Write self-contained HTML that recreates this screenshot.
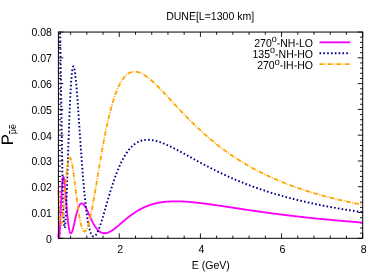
<!DOCTYPE html>
<html><head><meta charset="utf-8"><title>DUNE</title>
<style>html,body{margin:0;padding:0;background:#fff;}body{width:382px;height:273px;overflow:hidden;position:relative;font-family:"Liberation Sans",sans-serif;}</style>
</head><body>
<svg width="382" height="273" viewBox="0 0 382 273" style="position:absolute;left:0;top:0;display:block">
<rect width="382" height="273" fill="#fff"/>
<defs><filter id="nf" x="0" y="0" width="382" height="273" filterUnits="userSpaceOnUse"><feGaussianBlur stdDeviation="0.3"/></filter></defs>
<defs><clipPath id="c"><rect x="56.9" y="32.05" width="307.3" height="206.85"/></clipPath></defs>
<path d="M58.4,238.30h4.9M362.7,238.30h-4.9M58.4,233.14h2.7M362.7,233.14h-2.7M58.4,227.99h2.7M362.7,227.99h-2.7M58.4,222.83h2.7M362.7,222.83h-2.7M58.4,217.68h2.7M362.7,217.68h-2.7M58.4,212.52h4.9M362.7,212.52h-4.9M58.4,207.36h2.7M362.7,207.36h-2.7M58.4,202.21h2.7M362.7,202.21h-2.7M58.4,197.05h2.7M362.7,197.05h-2.7M58.4,191.89h2.7M362.7,191.89h-2.7M58.4,186.74h4.9M362.7,186.74h-4.9M58.4,181.58h2.7M362.7,181.58h-2.7M58.4,176.43h2.7M362.7,176.43h-2.7M58.4,171.27h2.7M362.7,171.27h-2.7M58.4,166.11h2.7M362.7,166.11h-2.7M58.4,160.96h4.9M362.7,160.96h-4.9M58.4,155.80h2.7M362.7,155.80h-2.7M58.4,150.64h2.7M362.7,150.64h-2.7M58.4,145.49h2.7M362.7,145.49h-2.7M58.4,140.33h2.7M362.7,140.33h-2.7M58.4,135.18h4.9M362.7,135.18h-4.9M58.4,130.02h2.7M362.7,130.02h-2.7M58.4,124.86h2.7M362.7,124.86h-2.7M58.4,119.71h2.7M362.7,119.71h-2.7M58.4,114.55h2.7M362.7,114.55h-2.7M58.4,109.39h4.9M362.7,109.39h-4.9M58.4,104.24h2.7M362.7,104.24h-2.7M58.4,99.08h2.7M362.7,99.08h-2.7M58.4,93.93h2.7M362.7,93.93h-2.7M58.4,88.77h2.7M362.7,88.77h-2.7M58.4,83.61h4.9M362.7,83.61h-4.9M58.4,78.46h2.7M362.7,78.46h-2.7M58.4,73.30h2.7M362.7,73.30h-2.7M58.4,68.14h2.7M362.7,68.14h-2.7M58.4,62.99h2.7M362.7,62.99h-2.7M58.4,57.83h4.9M362.7,57.83h-4.9M58.4,52.68h2.7M362.7,52.68h-2.7M58.4,47.52h2.7M362.7,47.52h-2.7M58.4,42.36h2.7M362.7,42.36h-2.7M58.4,37.21h2.7M362.7,37.21h-2.7M58.4,32.05h4.9M362.7,32.05h-4.9M70.57,238.3v-2.7M70.57,32.05v2.7M86.80,238.3v-2.7M86.80,32.05v2.7M103.03,238.3v-2.7M103.03,32.05v2.7M119.26,238.3v-4.9M119.26,32.05v4.9M135.49,238.3v-2.7M135.49,32.05v2.7M151.72,238.3v-2.7M151.72,32.05v2.7M167.95,238.3v-2.7M167.95,32.05v2.7M184.18,238.3v-2.7M184.18,32.05v2.7M200.41,238.3v-4.9M200.41,32.05v4.9M216.64,238.3v-2.7M216.64,32.05v2.7M232.87,238.3v-2.7M232.87,32.05v2.7M249.09,238.3v-2.7M249.09,32.05v2.7M265.32,238.3v-2.7M265.32,32.05v2.7M281.55,238.3v-4.9M281.55,32.05v4.9M297.78,238.3v-2.7M297.78,32.05v2.7M314.01,238.3v-2.7M314.01,32.05v2.7M330.24,238.3v-2.7M330.24,32.05v2.7M346.47,238.3v-2.7M346.47,32.05v2.7M362.70,238.3v-4.9M362.70,32.05v4.9" stroke="#000" stroke-width="0.9" fill="none"/>
<g clip-path="url(#c)" fill="none" stroke-linejoin="round">
<path d="M58.40,233.93 L58.55,236.04 L58.71,237.43 L58.86,238.12 L59.01,238.18 L59.16,237.63 L59.32,236.53 L59.47,234.95 L59.62,232.94 L59.77,230.56 L59.93,227.86 L60.08,224.92 L60.23,221.78 L60.38,218.51 L60.54,215.15 L60.69,211.75 L60.84,208.36 L60.99,205.02 L61.15,201.76 L61.30,198.63 L61.45,195.64 L61.60,192.83 L61.76,190.21 L61.91,187.80 L62.06,185.62 L62.21,183.67 L62.37,181.97 L62.52,180.52 L62.67,179.31 L62.82,178.35 L62.98,177.64 L63.13,177.16 L63.28,176.92 L63.43,176.91 L63.59,177.10 L63.74,177.50 L63.89,178.09 L64.04,178.87 L64.20,179.80 L64.35,180.89 L64.50,182.12 L64.65,183.48 L64.81,184.95 L64.96,186.51 L65.11,188.16 L65.26,189.88 L65.42,191.66 L65.57,193.49 L65.72,195.36 L65.87,197.24 L66.03,199.15 L66.18,201.05 L66.33,202.95 L66.48,204.83 L66.64,206.69 L66.79,208.52 L66.94,210.31 L67.09,212.06 L67.25,213.75 L67.40,215.40 L67.55,216.98 L67.70,218.50 L67.86,219.95 L68.01,221.33 L68.16,222.64 L68.31,223.88 L68.47,225.04 L68.62,226.12 L68.77,227.12 L68.92,228.05 L69.08,228.90 L69.23,229.67 L69.38,230.36 L69.53,230.98 L69.69,231.52 L69.84,231.98 L69.99,232.38 L70.14,232.70 L70.30,232.96 L70.45,233.15 L70.60,233.27 L70.76,233.34 L70.91,233.34 L71.06,233.29 L71.21,233.18 L71.37,233.02 L71.52,232.81 L71.67,232.55 L71.82,232.25 L71.98,231.90 L72.13,231.52 L72.28,231.10 L72.43,230.65 L72.59,230.16 L72.74,229.65 L72.89,229.11 L73.04,228.54 L73.20,227.96 L73.35,227.35 L73.50,226.73 L73.65,226.09 L73.81,225.44 L73.96,224.78 L74.11,224.11 L74.26,223.44 L74.42,222.76 L74.57,222.07 L74.72,221.39 L74.87,220.70 L75.03,220.02 L75.18,219.34 L75.33,218.66 L75.48,217.99 L75.64,217.32 L75.79,216.67 L75.94,216.02 L76.09,215.38 L76.25,214.76 L76.40,214.14 L76.55,213.54 L76.70,212.96 L76.86,212.38 L77.01,211.83 L77.16,211.29 L77.31,210.76 L77.47,210.25 L77.62,209.76 L77.77,209.28 L77.92,208.83 L78.08,208.39 L78.23,207.97 L78.38,207.57 L78.53,207.18 L78.69,206.82 L78.84,206.47 L78.99,206.15 L79.14,205.84 L79.30,205.55 L79.45,205.28 L79.60,205.03 L79.75,204.80 L79.91,204.58 L80.06,204.39 L80.21,204.21 L80.36,204.05 L80.52,203.91 L80.67,203.79 L80.82,203.68 L80.97,203.59 L81.13,203.52 L81.28,203.47 L81.43,203.43 L81.58,203.40 L81.74,203.40 L81.89,203.41 L82.04,203.43 L82.19,203.47 L82.35,203.52 L82.50,203.58 L82.65,203.66 L82.81,203.75 L82.96,203.86 L83.11,203.98 L83.26,204.11 L83.42,204.25 L83.57,204.40 L83.72,204.57 L83.87,204.74 L84.03,204.93 L84.18,205.12 L84.33,205.32 L84.48,205.54 L84.64,205.76 L84.79,205.99 L84.94,206.23 L85.09,206.48 L85.25,206.73 L85.40,206.99 L85.55,207.26 L85.70,207.53 L85.86,207.81 L86.01,208.10 L86.16,208.39 L86.31,208.68 L86.47,208.98 L86.62,209.29 L86.77,209.59 L86.92,209.91 L87.08,210.22 L87.23,210.54 L87.38,210.86 L87.53,211.19 L87.69,211.52 L87.84,211.85 L87.99,212.18 L88.14,212.51 L88.30,212.84 L88.45,213.18 L88.60,213.52 L88.75,213.85 L88.91,214.19 L89.06,214.53 L89.21,214.87 L89.36,215.20 L89.52,215.54 L89.67,215.88 L89.82,216.21 L89.97,216.55 L90.13,216.88 L90.28,217.22 L90.43,217.55 L90.58,217.88 L90.74,218.21 L90.89,218.53 L91.04,218.86 L91.19,219.18 L91.35,219.50 L91.50,219.82 L91.65,220.13 L91.80,220.45 L91.96,220.76 L92.11,221.07 L92.26,221.37 L92.41,221.67 L92.57,221.97 L92.72,222.27 L92.87,222.56 L93.02,222.85 L93.18,223.13 L93.33,223.41 L93.48,223.69 L93.63,223.97 L93.79,224.24 L93.94,224.51 L94.09,224.77 L94.24,225.03 L94.40,225.29 L94.55,225.54 L94.70,225.79 L94.85,226.03 L95.01,226.27 L95.16,226.51 L95.31,226.74 L95.47,226.97 L95.62,227.19 L95.77,227.41 L95.92,227.63 L96.08,227.84 L96.23,228.04 L96.38,228.25 L96.53,228.45 L96.69,228.64 L96.84,228.83 L96.99,229.02 L97.14,229.20 L97.30,229.37 L97.45,229.55 L97.60,229.72 L97.75,229.88 L97.91,230.04 L98.06,230.20 L98.21,230.35 L98.36,230.50 L98.52,230.64 L98.67,230.78 L98.82,230.92 L98.97,231.05 L99.13,231.18 L99.28,231.30 L99.43,231.42 L99.58,231.54 L99.74,231.65 L99.89,231.75 L100.04,231.86 L100.19,231.96 L100.35,232.05 L100.50,232.14 L100.65,232.23 L100.80,232.32 L100.96,232.40 L101.11,232.47 L101.26,232.54 L101.41,232.61 L101.57,232.68 L101.72,232.74 L101.87,232.80 L102.02,232.85 L102.18,232.90 L102.33,232.95 L102.48,233.00 L102.63,233.04 L102.79,233.07 L102.94,233.11 L103.09,233.14 L103.24,233.17 L103.40,233.19 L103.55,233.21 L103.70,233.23 L103.85,233.24 L104.01,233.26 L104.16,233.26 L104.31,233.27 L104.46,233.27 L104.62,233.27 L104.77,233.27 L104.92,233.26 L105.07,233.25 L105.23,233.24 L105.38,233.23 L105.53,233.21 L105.68,233.19 L105.84,233.17 L105.99,233.14 L106.14,233.12 L106.29,233.09 L106.45,233.05 L106.60,233.02 L106.75,232.98 L106.90,232.94 L107.06,232.90 L107.21,232.86 L107.36,232.81 L107.52,232.76 L107.67,232.71 L107.82,232.66 L107.97,232.60 L108.13,232.54 L108.28,232.48 L108.43,232.42 L108.58,232.36 L108.74,232.30 L108.89,232.23 L109.04,232.16 L109.19,232.09 L109.35,232.02 L109.50,231.94 L109.65,231.87 L109.80,231.79 L109.96,231.71 L110.11,231.63 L110.26,231.54 L110.41,231.46 L110.57,231.38 L110.72,231.29 L110.87,231.20 L111.02,231.11 L111.18,231.02 L111.33,230.92 L111.48,230.83 L111.63,230.74 L111.79,230.64 L111.94,230.54 L112.09,230.44 L112.24,230.34 L112.40,230.24 L112.55,230.14 L112.70,230.03 L112.85,229.93 L113.01,229.82 L113.16,229.71 L113.31,229.61 L113.46,229.50 L113.62,229.39 L113.77,229.28 L113.92,229.16 L114.07,229.05 L114.23,228.94 L114.38,228.82 L114.53,228.71 L114.68,228.59 L114.84,228.48 L114.99,228.36 L115.14,228.24 L115.29,228.12 L115.45,228.00 L115.60,227.88 L115.75,227.76 L115.90,227.64 L116.06,227.52 L116.21,227.39 L116.36,227.27 L116.51,227.15 L116.67,227.02 L116.82,226.90 L116.97,226.77 L117.12,226.65 L117.28,226.52 L117.43,226.40 L117.58,226.27 L117.73,226.14 L117.89,226.02 L118.04,225.89 L118.19,225.76 L118.34,225.63 L118.50,225.50 L118.65,225.37 L118.80,225.25 L118.95,225.12 L119.11,224.99 L119.26,224.86 L120.07,224.16 L120.89,223.46 L121.70,222.77 L122.52,222.07 L123.33,221.37 L124.15,220.68 L124.96,220.00 L125.77,219.32 L126.59,218.65 L127.40,217.99 L128.22,217.34 L129.03,216.70 L129.84,216.08 L130.66,215.46 L131.47,214.86 L132.29,214.27 L133.10,213.70 L133.92,213.14 L134.73,212.59 L135.54,212.06 L136.36,211.54 L137.17,211.04 L137.99,210.55 L138.80,210.08 L139.61,209.62 L140.43,209.17 L141.24,208.74 L142.06,208.33 L142.87,207.93 L143.69,207.54 L144.50,207.17 L145.31,206.82 L146.13,206.47 L146.94,206.14 L147.76,205.83 L148.57,205.52 L149.38,205.23 L150.20,204.96 L151.01,204.69 L151.83,204.44 L152.64,204.20 L153.46,203.97 L154.27,203.75 L155.08,203.54 L155.90,203.35 L156.71,203.16 L157.53,202.99 L158.34,202.83 L159.15,202.67 L159.97,202.53 L160.78,202.39 L161.60,202.27 L162.41,202.15 L163.23,202.04 L164.04,201.94 L164.85,201.85 L165.67,201.77 L166.48,201.69 L167.30,201.62 L168.11,201.56 L168.93,201.51 L169.74,201.46 L170.55,201.42 L171.37,201.39 L172.18,201.36 L173.00,201.34 L173.81,201.32 L174.62,201.31 L175.44,201.31 L176.25,201.31 L177.07,201.32 L177.88,201.33 L178.70,201.34 L179.51,201.36 L180.32,201.39 L181.14,201.42 L181.95,201.45 L182.77,201.49 L183.58,201.53 L184.39,201.58 L185.21,201.63 L186.02,201.68 L186.84,201.74 L187.65,201.80 L188.47,201.86 L189.28,201.92 L190.09,201.99 L190.91,202.06 L191.72,202.14 L192.54,202.21 L193.35,202.29 L194.16,202.38 L194.98,202.46 L195.79,202.55 L196.61,202.63 L197.42,202.72 L198.24,202.82 L199.05,202.91 L199.86,203.01 L200.68,203.10 L201.49,203.20 L202.31,203.30 L203.12,203.41 L203.93,203.51 L204.75,203.62 L205.56,203.72 L206.38,203.83 L207.19,203.94 L208.01,204.05 L208.82,204.16 L209.63,204.27 L210.45,204.38 L211.26,204.50 L212.08,204.61 L212.89,204.73 L213.70,204.84 L214.52,204.96 L215.33,205.08 L216.15,205.20 L216.96,205.31 L217.78,205.43 L218.59,205.55 L219.40,205.67 L220.22,205.79 L221.03,205.92 L221.85,206.04 L222.66,206.16 L223.48,206.28 L224.29,206.40 L225.10,206.52 L225.92,206.65 L226.73,206.77 L227.55,206.89 L228.36,207.02 L229.17,207.14 L229.99,207.26 L230.80,207.39 L231.62,207.51 L232.43,207.63 L233.25,207.75 L234.06,207.88 L234.87,208.00 L235.69,208.12 L236.50,208.25 L237.32,208.37 L238.13,208.49 L238.94,208.62 L239.76,208.74 L240.57,208.86 L241.39,208.98 L242.20,209.10 L243.02,209.22 L243.83,209.35 L244.64,209.47 L245.46,209.59 L246.27,209.71 L247.09,209.83 L247.90,209.95 L248.71,210.07 L249.53,210.19 L250.34,210.31 L251.16,210.43 L251.97,210.54 L252.79,210.66 L253.60,210.78 L254.41,210.90 L255.23,211.01 L256.04,211.13 L256.86,211.25 L257.67,211.36 L258.48,211.48 L259.30,211.59 L260.11,211.71 L260.93,211.82 L261.74,211.94 L262.56,212.05 L263.37,212.16 L264.18,212.27 L265.00,212.39 L265.81,212.50 L266.63,212.61 L267.44,212.72 L268.26,212.83 L269.07,212.94 L269.88,213.05 L270.70,213.16 L271.51,213.27 L272.33,213.37 L273.14,213.48 L273.95,213.59 L274.77,213.70 L275.58,213.80 L276.40,213.91 L277.21,214.01 L278.03,214.12 L278.84,214.22 L279.65,214.33 L280.47,214.43 L281.28,214.53 L282.10,214.63 L282.91,214.74 L283.72,214.84 L284.54,214.94 L285.35,215.04 L286.17,215.14 L286.98,215.24 L287.80,215.34 L288.61,215.44 L289.42,215.53 L290.24,215.63 L291.05,215.73 L291.87,215.83 L292.68,215.92 L293.49,216.02 L294.31,216.11 L295.12,216.21 L295.94,216.30 L296.75,216.40 L297.57,216.49 L298.38,216.58 L299.19,216.68 L300.01,216.77 L300.82,216.86 L301.64,216.95 L302.45,217.04 L303.26,217.13 L304.08,217.22 L304.89,217.31 L305.71,217.40 L306.52,217.49 L307.34,217.57 L308.15,217.66 L308.96,217.75 L309.78,217.83 L310.59,217.92 L311.41,218.01 L312.22,218.09 L313.03,218.18 L313.85,218.26 L314.66,218.34 L315.48,218.43 L316.29,218.51 L317.11,218.59 L317.92,218.68 L318.73,218.76 L319.55,218.84 L320.36,218.92 L321.18,219.00 L321.99,219.08 L322.81,219.16 L323.62,219.24 L324.43,219.32 L325.25,219.39 L326.06,219.47 L326.88,219.55 L327.69,219.63 L328.50,219.70 L329.32,219.78 L330.13,219.86 L330.95,219.93 L331.76,220.01 L332.58,220.08 L333.39,220.16 L334.20,220.23 L335.02,220.30 L335.83,220.38 L336.65,220.45 L337.46,220.52 L338.27,220.59 L339.09,220.66 L339.90,220.73 L340.72,220.81 L341.53,220.88 L342.35,220.95 L343.16,221.02 L343.97,221.09 L344.79,221.15 L345.60,221.22 L346.42,221.29 L347.23,221.36 L348.04,221.43 L348.86,221.49 L349.67,221.56 L350.49,221.63 L351.30,221.69 L352.12,221.76 L352.93,221.82 L353.74,221.89 L354.56,221.95 L355.37,222.02 L356.19,222.08 L357.00,222.14 L357.81,222.21 L358.63,222.27 L359.44,222.33 L360.26,222.40 L361.07,222.46 L361.89,222.52 L362.70,222.58" stroke="#ff00ff" stroke-width="1.85"/>
<path d="M58.40,13.40 L58.55,8.36 L58.71,4.82 L58.86,2.75 L59.01,2.12 L59.16,2.86 L59.32,4.92 L59.47,8.21 L59.62,12.63 L59.77,18.09 L59.93,24.48 L60.08,31.69 L60.23,39.61 L60.38,48.14 L60.54,57.15 L60.69,66.56 L60.84,76.25 L60.99,86.12 L61.15,96.09 L61.30,106.06 L61.45,115.96 L61.60,125.71 L61.76,135.23 L61.91,144.48 L62.06,153.39 L62.21,161.91 L62.37,170.01 L62.52,177.64 L62.67,184.78 L62.82,191.40 L62.98,197.48 L63.13,203.01 L63.28,207.99 L63.43,212.39 L63.59,216.23 L63.74,219.52 L63.89,222.24 L64.04,224.42 L64.20,226.07 L64.35,227.20 L64.50,227.83 L64.65,227.98 L64.81,227.67 L64.96,226.92 L65.11,225.75 L65.26,224.19 L65.42,222.27 L65.57,220.00 L65.72,217.41 L65.87,214.52 L66.03,211.37 L66.18,207.98 L66.33,204.37 L66.48,200.56 L66.64,196.58 L66.79,192.45 L66.94,188.20 L67.09,183.84 L67.25,179.40 L67.40,174.89 L67.55,170.34 L67.70,165.76 L67.86,161.17 L68.01,156.58 L68.16,152.02 L68.31,147.49 L68.47,143.02 L68.62,138.60 L68.77,134.26 L68.92,130.00 L69.08,125.84 L69.23,121.78 L69.38,117.84 L69.53,114.01 L69.69,110.31 L69.84,106.74 L69.99,103.31 L70.14,100.02 L70.30,96.88 L70.45,93.89 L70.60,91.05 L70.76,88.36 L70.91,85.83 L71.06,83.46 L71.21,81.25 L71.37,79.19 L71.52,77.29 L71.67,75.55 L71.82,73.97 L71.98,72.54 L72.13,71.26 L72.28,70.14 L72.43,69.17 L72.59,68.34 L72.74,67.66 L72.89,67.12 L73.04,66.72 L73.20,66.46 L73.35,66.32 L73.50,66.32 L73.65,66.45 L73.81,66.69 L73.96,67.05 L74.11,67.53 L74.26,68.12 L74.42,68.82 L74.57,69.62 L74.72,70.52 L74.87,71.52 L75.03,72.60 L75.18,73.78 L75.33,75.04 L75.48,76.37 L75.64,77.79 L75.79,79.28 L75.94,80.83 L76.09,82.45 L76.25,84.14 L76.40,85.88 L76.55,87.67 L76.70,89.52 L76.86,91.41 L77.01,93.35 L77.16,95.32 L77.31,97.34 L77.47,99.39 L77.62,101.47 L77.77,103.58 L77.92,105.72 L78.08,107.88 L78.23,110.06 L78.38,112.26 L78.53,114.47 L78.69,116.70 L78.84,118.93 L78.99,121.18 L79.14,123.43 L79.30,125.68 L79.45,127.93 L79.60,130.19 L79.75,132.44 L79.91,134.69 L80.06,136.93 L80.21,139.17 L80.36,141.39 L80.52,143.61 L80.67,145.81 L80.82,148.00 L80.97,150.18 L81.13,152.33 L81.28,154.47 L81.43,156.60 L81.58,158.70 L81.74,160.78 L81.89,162.84 L82.04,164.88 L82.19,166.89 L82.35,168.88 L82.50,170.85 L82.65,172.79 L82.81,174.70 L82.96,176.59 L83.11,178.44 L83.26,180.27 L83.42,182.08 L83.57,183.85 L83.72,185.59 L83.87,187.30 L84.03,188.99 L84.18,190.64 L84.33,192.26 L84.48,193.85 L84.64,195.41 L84.79,196.94 L84.94,198.44 L85.09,199.91 L85.25,201.34 L85.40,202.74 L85.55,204.11 L85.70,205.45 L85.86,206.76 L86.01,208.04 L86.16,209.28 L86.31,210.50 L86.47,211.68 L86.62,212.83 L86.77,213.95 L86.92,215.04 L87.08,216.10 L87.23,217.13 L87.38,218.12 L87.53,219.09 L87.69,220.03 L87.84,220.94 L87.99,221.81 L88.14,222.66 L88.30,223.48 L88.45,224.27 L88.60,225.04 L88.75,225.77 L88.91,226.48 L89.06,227.16 L89.21,227.81 L89.36,228.44 L89.52,229.04 L89.67,229.61 L89.82,230.16 L89.97,230.68 L90.13,231.18 L90.28,231.65 L90.43,232.10 L90.58,232.52 L90.74,232.92 L90.89,233.30 L91.04,233.65 L91.19,233.98 L91.35,234.29 L91.50,234.57 L91.65,234.84 L91.80,235.08 L91.96,235.30 L92.11,235.50 L92.26,235.68 L92.41,235.85 L92.57,235.99 L92.72,236.11 L92.87,236.21 L93.02,236.30 L93.18,236.37 L93.33,236.42 L93.48,236.45 L93.63,236.46 L93.79,236.46 L93.94,236.44 L94.09,236.41 L94.24,236.36 L94.40,236.29 L94.55,236.21 L94.70,236.12 L94.85,236.01 L95.01,235.88 L95.16,235.75 L95.31,235.60 L95.47,235.43 L95.62,235.25 L95.77,235.06 L95.92,234.86 L96.08,234.65 L96.23,234.42 L96.38,234.19 L96.53,233.94 L96.69,233.68 L96.84,233.41 L96.99,233.13 L97.14,232.84 L97.30,232.54 L97.45,232.23 L97.60,231.91 L97.75,231.58 L97.91,231.25 L98.06,230.90 L98.21,230.55 L98.36,230.19 L98.52,229.82 L98.67,229.44 L98.82,229.06 L98.97,228.67 L99.13,228.27 L99.28,227.87 L99.43,227.46 L99.58,227.04 L99.74,226.62 L99.89,226.19 L100.04,225.76 L100.19,225.32 L100.35,224.87 L100.50,224.42 L100.65,223.97 L100.80,223.51 L100.96,223.05 L101.11,222.58 L101.26,222.11 L101.41,221.63 L101.57,221.15 L101.72,220.67 L101.87,220.18 L102.02,219.69 L102.18,219.20 L102.33,218.70 L102.48,218.21 L102.63,217.70 L102.79,217.20 L102.94,216.69 L103.09,216.19 L103.24,215.68 L103.40,215.16 L103.55,214.65 L103.70,214.13 L103.85,213.62 L104.01,213.10 L104.16,212.58 L104.31,212.06 L104.46,211.54 L104.62,211.01 L104.77,210.49 L104.92,209.96 L105.07,209.44 L105.23,208.91 L105.38,208.39 L105.53,207.86 L105.68,207.33 L105.84,206.81 L105.99,206.28 L106.14,205.75 L106.29,205.22 L106.45,204.70 L106.60,204.17 L106.75,203.64 L106.90,203.12 L107.06,202.59 L107.21,202.07 L107.36,201.55 L107.52,201.02 L107.67,200.50 L107.82,199.98 L107.97,199.46 L108.13,198.94 L108.28,198.42 L108.43,197.91 L108.58,197.39 L108.74,196.88 L108.89,196.36 L109.04,195.85 L109.19,195.34 L109.35,194.83 L109.50,194.33 L109.65,193.82 L109.80,193.32 L109.96,192.81 L110.11,192.31 L110.26,191.81 L110.41,191.32 L110.57,190.82 L110.72,190.33 L110.87,189.84 L111.02,189.35 L111.18,188.86 L111.33,188.38 L111.48,187.90 L111.63,187.41 L111.79,186.94 L111.94,186.46 L112.09,185.99 L112.24,185.51 L112.40,185.04 L112.55,184.58 L112.70,184.11 L112.85,183.65 L113.01,183.19 L113.16,182.73 L113.31,182.28 L113.46,181.82 L113.62,181.37 L113.77,180.93 L113.92,180.48 L114.07,180.04 L114.23,179.60 L114.38,179.16 L114.53,178.73 L114.68,178.29 L114.84,177.86 L114.99,177.44 L115.14,177.01 L115.29,176.59 L115.45,176.17 L115.60,175.75 L115.75,175.34 L115.90,174.93 L116.06,174.52 L116.21,174.11 L116.36,173.71 L116.51,173.31 L116.67,172.91 L116.82,172.52 L116.97,172.13 L117.12,171.74 L117.28,171.35 L117.43,170.97 L117.58,170.58 L117.73,170.21 L117.89,169.83 L118.04,169.46 L118.19,169.09 L118.34,168.72 L118.50,168.36 L118.65,167.99 L118.80,167.64 L118.95,167.28 L119.11,166.93 L119.26,166.58 L120.07,164.75 L120.89,163.00 L121.70,161.33 L122.52,159.74 L123.33,158.22 L124.15,156.78 L124.96,155.41 L125.77,154.12 L126.59,152.89 L127.40,151.73 L128.22,150.64 L129.03,149.61 L129.84,148.64 L130.66,147.74 L131.47,146.89 L132.29,146.11 L133.10,145.37 L133.92,144.70 L134.73,144.07 L135.54,143.50 L136.36,142.97 L137.17,142.49 L137.99,142.05 L138.80,141.66 L139.61,141.31 L140.43,141.00 L141.24,140.73 L142.06,140.50 L142.87,140.30 L143.69,140.13 L144.50,140.00 L145.31,139.90 L146.13,139.83 L146.94,139.79 L147.76,139.77 L148.57,139.78 L149.38,139.82 L150.20,139.88 L151.01,139.96 L151.83,140.07 L152.64,140.20 L153.46,140.34 L154.27,140.51 L155.08,140.69 L155.90,140.89 L156.71,141.11 L157.53,141.34 L158.34,141.59 L159.15,141.85 L159.97,142.12 L160.78,142.41 L161.60,142.71 L162.41,143.02 L163.23,143.34 L164.04,143.67 L164.85,144.01 L165.67,144.36 L166.48,144.72 L167.30,145.09 L168.11,145.46 L168.93,145.84 L169.74,146.23 L170.55,146.62 L171.37,147.02 L172.18,147.42 L173.00,147.83 L173.81,148.25 L174.62,148.66 L175.44,149.08 L176.25,149.51 L177.07,149.94 L177.88,150.37 L178.70,150.81 L179.51,151.24 L180.32,151.68 L181.14,152.12 L181.95,152.57 L182.77,153.01 L183.58,153.46 L184.39,153.90 L185.21,154.35 L186.02,154.80 L186.84,155.25 L187.65,155.70 L188.47,156.15 L189.28,156.60 L190.09,157.05 L190.91,157.50 L191.72,157.95 L192.54,158.40 L193.35,158.84 L194.16,159.29 L194.98,159.74 L195.79,160.18 L196.61,160.63 L197.42,161.07 L198.24,161.52 L199.05,161.96 L199.86,162.40 L200.68,162.84 L201.49,163.27 L202.31,163.71 L203.12,164.14 L203.93,164.58 L204.75,165.01 L205.56,165.43 L206.38,165.86 L207.19,166.29 L208.01,166.71 L208.82,167.13 L209.63,167.55 L210.45,167.97 L211.26,168.38 L212.08,168.80 L212.89,169.21 L213.70,169.62 L214.52,170.02 L215.33,170.43 L216.15,170.83 L216.96,171.23 L217.78,171.63 L218.59,172.02 L219.40,172.42 L220.22,172.81 L221.03,173.19 L221.85,173.58 L222.66,173.96 L223.48,174.35 L224.29,174.72 L225.10,175.10 L225.92,175.48 L226.73,175.85 L227.55,176.22 L228.36,176.58 L229.17,176.95 L229.99,177.31 L230.80,177.67 L231.62,178.03 L232.43,178.38 L233.25,178.74 L234.06,179.09 L234.87,179.44 L235.69,179.78 L236.50,180.13 L237.32,180.47 L238.13,180.81 L238.94,181.14 L239.76,181.48 L240.57,181.81 L241.39,182.14 L242.20,182.47 L243.02,182.79 L243.83,183.11 L244.64,183.43 L245.46,183.75 L246.27,184.07 L247.09,184.38 L247.90,184.69 L248.71,185.00 L249.53,185.31 L250.34,185.61 L251.16,185.92 L251.97,186.22 L252.79,186.52 L253.60,186.81 L254.41,187.11 L255.23,187.40 L256.04,187.69 L256.86,187.98 L257.67,188.26 L258.48,188.54 L259.30,188.83 L260.11,189.11 L260.93,189.38 L261.74,189.66 L262.56,189.93 L263.37,190.20 L264.18,190.47 L265.00,190.74 L265.81,191.01 L266.63,191.27 L267.44,191.53 L268.26,191.79 L269.07,192.05 L269.88,192.31 L270.70,192.56 L271.51,192.81 L272.33,193.06 L273.14,193.31 L273.95,193.56 L274.77,193.80 L275.58,194.05 L276.40,194.29 L277.21,194.53 L278.03,194.77 L278.84,195.00 L279.65,195.24 L280.47,195.47 L281.28,195.70 L282.10,195.93 L282.91,196.16 L283.72,196.39 L284.54,196.61 L285.35,196.83 L286.17,197.05 L286.98,197.27 L287.80,197.49 L288.61,197.71 L289.42,197.92 L290.24,198.14 L291.05,198.35 L291.87,198.56 L292.68,198.77 L293.49,198.98 L294.31,199.18 L295.12,199.39 L295.94,199.59 L296.75,199.79 L297.57,199.99 L298.38,200.19 L299.19,200.39 L300.01,200.58 L300.82,200.78 L301.64,200.97 L302.45,201.16 L303.26,201.35 L304.08,201.54 L304.89,201.73 L305.71,201.92 L306.52,202.10 L307.34,202.28 L308.15,202.47 L308.96,202.65 L309.78,202.83 L310.59,203.01 L311.41,203.18 L312.22,203.36 L313.03,203.53 L313.85,203.71 L314.66,203.88 L315.48,204.05 L316.29,204.22 L317.11,204.39 L317.92,204.56 L318.73,204.73 L319.55,204.89 L320.36,205.06 L321.18,205.22 L321.99,205.38 L322.81,205.54 L323.62,205.70 L324.43,205.86 L325.25,206.02 L326.06,206.17 L326.88,206.33 L327.69,206.48 L328.50,206.64 L329.32,206.79 L330.13,206.94 L330.95,207.09 L331.76,207.24 L332.58,207.39 L333.39,207.54 L334.20,207.68 L335.02,207.83 L335.83,207.97 L336.65,208.11 L337.46,208.26 L338.27,208.40 L339.09,208.54 L339.90,208.68 L340.72,208.82 L341.53,208.95 L342.35,209.09 L343.16,209.23 L343.97,209.36 L344.79,209.50 L345.60,209.63 L346.42,209.76 L347.23,209.89 L348.04,210.02 L348.86,210.15 L349.67,210.28 L350.49,210.41 L351.30,210.54 L352.12,210.66 L352.93,210.79 L353.74,210.91 L354.56,211.04 L355.37,211.16 L356.19,211.28 L357.00,211.41 L357.81,211.53 L358.63,211.65 L359.44,211.77 L360.26,211.88 L361.07,212.00 L361.89,212.12 L362.70,212.23" stroke="#00008b" stroke-width="1.9" stroke-dasharray="1.6 2.23"/>
<path d="M58.40,190.79 L58.55,194.41 L58.71,197.89 L58.86,201.22 L59.01,204.36 L59.16,207.30 L59.32,210.03 L59.47,212.53 L59.62,214.79 L59.77,216.82 L59.93,218.61 L60.08,220.16 L60.23,221.47 L60.38,222.56 L60.54,223.41 L60.69,224.05 L60.84,224.48 L60.99,224.71 L61.15,224.74 L61.30,224.59 L61.45,224.26 L61.60,223.78 L61.76,223.13 L61.91,222.35 L62.06,221.43 L62.21,220.38 L62.37,219.23 L62.52,217.96 L62.67,216.61 L62.82,215.16 L62.98,213.64 L63.13,212.05 L63.28,210.41 L63.43,208.71 L63.59,206.96 L63.74,205.18 L63.89,203.37 L64.04,201.54 L64.20,199.69 L64.35,197.83 L64.50,195.97 L64.65,194.11 L64.81,192.26 L64.96,190.43 L65.11,188.61 L65.26,186.81 L65.42,185.04 L65.57,183.31 L65.72,181.61 L65.87,179.95 L66.03,178.33 L66.18,176.76 L66.33,175.24 L66.48,173.77 L66.64,172.36 L66.79,171.00 L66.94,169.71 L67.09,168.47 L67.25,167.30 L67.40,166.19 L67.55,165.15 L67.70,164.18 L67.86,163.27 L68.01,162.43 L68.16,161.66 L68.31,160.96 L68.47,160.33 L68.62,159.77 L68.77,159.28 L68.92,158.86 L69.08,158.51 L69.23,158.23 L69.38,158.01 L69.53,157.86 L69.69,157.78 L69.84,157.77 L69.99,157.81 L70.14,157.92 L70.30,158.10 L70.45,158.33 L70.60,158.62 L70.76,158.97 L70.91,159.37 L71.06,159.83 L71.21,160.34 L71.37,160.91 L71.52,161.52 L71.67,162.17 L71.82,162.88 L71.98,163.62 L72.13,164.41 L72.28,165.24 L72.43,166.10 L72.59,167.01 L72.74,167.94 L72.89,168.91 L73.04,169.91 L73.20,170.93 L73.35,171.98 L73.50,173.06 L73.65,174.16 L73.81,175.27 L73.96,176.41 L74.11,177.57 L74.26,178.73 L74.42,179.92 L74.57,181.11 L74.72,182.32 L74.87,183.53 L75.03,184.75 L75.18,185.97 L75.33,187.20 L75.48,188.43 L75.64,189.66 L75.79,190.88 L75.94,192.11 L76.09,193.33 L76.25,194.55 L76.40,195.76 L76.55,196.96 L76.70,198.16 L76.86,199.34 L77.01,200.52 L77.16,201.68 L77.31,202.82 L77.47,203.96 L77.62,205.08 L77.77,206.18 L77.92,207.27 L78.08,208.33 L78.23,209.38 L78.38,210.41 L78.53,211.42 L78.69,212.41 L78.84,213.38 L78.99,214.33 L79.14,215.26 L79.30,216.16 L79.45,217.04 L79.60,217.89 L79.75,218.72 L79.91,219.53 L80.06,220.31 L80.21,221.07 L80.36,221.80 L80.52,222.50 L80.67,223.18 L80.82,223.83 L80.97,224.46 L81.13,225.06 L81.28,225.63 L81.43,226.18 L81.58,226.70 L81.74,227.20 L81.89,227.66 L82.04,228.10 L82.19,228.52 L82.35,228.90 L82.50,229.26 L82.65,229.59 L82.81,229.90 L82.96,230.18 L83.11,230.43 L83.26,230.66 L83.42,230.86 L83.57,231.04 L83.72,231.19 L83.87,231.31 L84.03,231.41 L84.18,231.49 L84.33,231.54 L84.48,231.56 L84.64,231.56 L84.79,231.54 L84.94,231.49 L85.09,231.42 L85.25,231.33 L85.40,231.21 L85.55,231.07 L85.70,230.91 L85.86,230.73 L86.01,230.52 L86.16,230.30 L86.31,230.05 L86.47,229.78 L86.62,229.49 L86.77,229.18 L86.92,228.86 L87.08,228.51 L87.23,228.14 L87.38,227.76 L87.53,227.35 L87.69,226.93 L87.84,226.49 L87.99,226.04 L88.14,225.56 L88.30,225.07 L88.45,224.57 L88.60,224.05 L88.75,223.51 L88.91,222.96 L89.06,222.39 L89.21,221.81 L89.36,221.21 L89.52,220.60 L89.67,219.98 L89.82,219.34 L89.97,218.70 L90.13,218.04 L90.28,217.36 L90.43,216.68 L90.58,215.98 L90.74,215.28 L90.89,214.56 L91.04,213.83 L91.19,213.09 L91.35,212.34 L91.50,211.59 L91.65,210.82 L91.80,210.05 L91.96,209.26 L92.11,208.47 L92.26,207.67 L92.41,206.86 L92.57,206.05 L92.72,205.23 L92.87,204.40 L93.02,203.56 L93.18,202.72 L93.33,201.87 L93.48,201.02 L93.63,200.16 L93.79,199.30 L93.94,198.43 L94.09,197.56 L94.24,196.68 L94.40,195.80 L94.55,194.92 L94.70,194.03 L94.85,193.14 L95.01,192.24 L95.16,191.34 L95.31,190.44 L95.47,189.54 L95.62,188.63 L95.77,187.72 L95.92,186.81 L96.08,185.90 L96.23,184.99 L96.38,184.07 L96.53,183.16 L96.69,182.24 L96.84,181.32 L96.99,180.41 L97.14,179.49 L97.30,178.57 L97.45,177.65 L97.60,176.73 L97.75,175.82 L97.91,174.90 L98.06,173.98 L98.21,173.07 L98.36,172.15 L98.52,171.24 L98.67,170.32 L98.82,169.41 L98.97,168.50 L99.13,167.59 L99.28,166.69 L99.43,165.78 L99.58,164.88 L99.74,163.98 L99.89,163.08 L100.04,162.18 L100.19,161.29 L100.35,160.40 L100.50,159.51 L100.65,158.63 L100.80,157.74 L100.96,156.86 L101.11,155.99 L101.26,155.11 L101.41,154.24 L101.57,153.38 L101.72,152.51 L101.87,151.65 L102.02,150.80 L102.18,149.94 L102.33,149.09 L102.48,148.25 L102.63,147.41 L102.79,146.57 L102.94,145.74 L103.09,144.91 L103.24,144.08 L103.40,143.26 L103.55,142.45 L103.70,141.63 L103.85,140.83 L104.01,140.02 L104.16,139.22 L104.31,138.43 L104.46,137.64 L104.62,136.85 L104.77,136.07 L104.92,135.30 L105.07,134.53 L105.23,133.76 L105.38,133.00 L105.53,132.24 L105.68,131.49 L105.84,130.74 L105.99,130.00 L106.14,129.26 L106.29,128.53 L106.45,127.80 L106.60,127.08 L106.75,126.37 L106.90,125.65 L107.06,124.95 L107.21,124.25 L107.36,123.55 L107.52,122.86 L107.67,122.17 L107.82,121.49 L107.97,120.82 L108.13,120.15 L108.28,119.48 L108.43,118.82 L108.58,118.17 L108.74,117.52 L108.89,116.87 L109.04,116.23 L109.19,115.60 L109.35,114.97 L109.50,114.35 L109.65,113.73 L109.80,113.12 L109.96,112.51 L110.11,111.91 L110.26,111.31 L110.41,110.72 L110.57,110.14 L110.72,109.56 L110.87,108.98 L111.02,108.41 L111.18,107.85 L111.33,107.29 L111.48,106.73 L111.63,106.18 L111.79,105.64 L111.94,105.10 L112.09,104.57 L112.24,104.04 L112.40,103.51 L112.55,103.00 L112.70,102.48 L112.85,101.97 L113.01,101.47 L113.16,100.97 L113.31,100.48 L113.46,99.99 L113.62,99.51 L113.77,99.03 L113.92,98.56 L114.07,98.09 L114.23,97.63 L114.38,97.17 L114.53,96.72 L114.68,96.28 L114.84,95.83 L114.99,95.40 L115.14,94.96 L115.29,94.53 L115.45,94.11 L115.60,93.69 L115.75,93.28 L115.90,92.87 L116.06,92.47 L116.21,92.07 L116.36,91.67 L116.51,91.29 L116.67,90.90 L116.82,90.52 L116.97,90.14 L117.12,89.77 L117.28,89.41 L117.43,89.05 L117.58,88.69 L117.73,88.34 L117.89,87.99 L118.04,87.64 L118.19,87.30 L118.34,86.97 L118.50,86.64 L118.65,86.31 L118.80,85.99 L118.95,85.67 L119.11,85.36 L119.26,85.05 L120.07,83.47 L120.89,82.02 L121.70,80.67 L122.52,79.44 L123.33,78.31 L124.15,77.28 L124.96,76.35 L125.77,75.52 L126.59,74.78 L127.40,74.13 L128.22,73.56 L129.03,73.07 L129.84,72.66 L130.66,72.32 L131.47,72.06 L132.29,71.86 L133.10,71.72 L133.92,71.65 L134.73,71.64 L135.54,71.68 L136.36,71.78 L137.17,71.92 L137.99,72.12 L138.80,72.36 L139.61,72.64 L140.43,72.97 L141.24,73.33 L142.06,73.74 L142.87,74.17 L143.69,74.64 L144.50,75.15 L145.31,75.68 L146.13,76.24 L146.94,76.82 L147.76,77.43 L148.57,78.06 L149.38,78.72 L150.20,79.39 L151.01,80.09 L151.83,80.80 L152.64,81.53 L153.46,82.27 L154.27,83.03 L155.08,83.81 L155.90,84.59 L156.71,85.39 L157.53,86.19 L158.34,87.01 L159.15,87.83 L159.97,88.67 L160.78,89.51 L161.60,90.35 L162.41,91.21 L163.23,92.06 L164.04,92.93 L164.85,93.79 L165.67,94.66 L166.48,95.54 L167.30,96.41 L168.11,97.29 L168.93,98.17 L169.74,99.05 L170.55,99.93 L171.37,100.81 L172.18,101.69 L173.00,102.57 L173.81,103.45 L174.62,104.33 L175.44,105.21 L176.25,106.08 L177.07,106.96 L177.88,107.83 L178.70,108.70 L179.51,109.56 L180.32,110.43 L181.14,111.29 L181.95,112.14 L182.77,113.00 L183.58,113.85 L184.39,114.69 L185.21,115.53 L186.02,116.37 L186.84,117.21 L187.65,118.04 L188.47,118.86 L189.28,119.68 L190.09,120.50 L190.91,121.31 L191.72,122.12 L192.54,122.92 L193.35,123.72 L194.16,124.51 L194.98,125.30 L195.79,126.08 L196.61,126.86 L197.42,127.63 L198.24,128.40 L199.05,129.16 L199.86,129.91 L200.68,130.66 L201.49,131.41 L202.31,132.15 L203.12,132.89 L203.93,133.62 L204.75,134.34 L205.56,135.06 L206.38,135.77 L207.19,136.48 L208.01,137.18 L208.82,137.88 L209.63,138.57 L210.45,139.26 L211.26,139.94 L212.08,140.62 L212.89,141.29 L213.70,141.96 L214.52,142.62 L215.33,143.27 L216.15,143.92 L216.96,144.57 L217.78,145.20 L218.59,145.84 L219.40,146.47 L220.22,147.09 L221.03,147.71 L221.85,148.33 L222.66,148.93 L223.48,149.54 L224.29,150.14 L225.10,150.73 L225.92,151.32 L226.73,151.90 L227.55,152.48 L228.36,153.06 L229.17,153.63 L229.99,154.19 L230.80,154.75 L231.62,155.31 L232.43,155.86 L233.25,156.40 L234.06,156.95 L234.87,157.48 L235.69,158.02 L236.50,158.54 L237.32,159.07 L238.13,159.59 L238.94,160.10 L239.76,160.61 L240.57,161.12 L241.39,161.62 L242.20,162.12 L243.02,162.61 L243.83,163.10 L244.64,163.59 L245.46,164.07 L246.27,164.54 L247.09,165.02 L247.90,165.49 L248.71,165.95 L249.53,166.41 L250.34,166.87 L251.16,167.32 L251.97,167.77 L252.79,168.22 L253.60,168.66 L254.41,169.10 L255.23,169.53 L256.04,169.96 L256.86,170.39 L257.67,170.81 L258.48,171.23 L259.30,171.65 L260.11,172.06 L260.93,172.47 L261.74,172.88 L262.56,173.28 L263.37,173.68 L264.18,174.08 L265.00,174.47 L265.81,174.86 L266.63,175.25 L267.44,175.63 L268.26,176.01 L269.07,176.39 L269.88,176.76 L270.70,177.13 L271.51,177.50 L272.33,177.86 L273.14,178.23 L273.95,178.58 L274.77,178.94 L275.58,179.29 L276.40,179.64 L277.21,179.99 L278.03,180.33 L278.84,180.68 L279.65,181.01 L280.47,181.35 L281.28,181.68 L282.10,182.01 L282.91,182.34 L283.72,182.67 L284.54,182.99 L285.35,183.31 L286.17,183.63 L286.98,183.94 L287.80,184.25 L288.61,184.56 L289.42,184.87 L290.24,185.18 L291.05,185.48 L291.87,185.78 L292.68,186.08 L293.49,186.37 L294.31,186.66 L295.12,186.95 L295.94,187.24 L296.75,187.53 L297.57,187.81 L298.38,188.09 L299.19,188.37 L300.01,188.65 L300.82,188.93 L301.64,189.20 L302.45,189.47 L303.26,189.74 L304.08,190.00 L304.89,190.27 L305.71,190.53 L306.52,190.79 L307.34,191.05 L308.15,191.31 L308.96,191.56 L309.78,191.81 L310.59,192.06 L311.41,192.31 L312.22,192.56 L313.03,192.81 L313.85,193.05 L314.66,193.29 L315.48,193.53 L316.29,193.77 L317.11,194.00 L317.92,194.24 L318.73,194.47 L319.55,194.70 L320.36,194.93 L321.18,195.16 L321.99,195.38 L322.81,195.60 L323.62,195.83 L324.43,196.05 L325.25,196.27 L326.06,196.48 L326.88,196.70 L327.69,196.91 L328.50,197.12 L329.32,197.34 L330.13,197.55 L330.95,197.75 L331.76,197.96 L332.58,198.16 L333.39,198.37 L334.20,198.57 L335.02,198.77 L335.83,198.97 L336.65,199.17 L337.46,199.36 L338.27,199.56 L339.09,199.75 L339.90,199.94 L340.72,200.13 L341.53,200.32 L342.35,200.51 L343.16,200.70 L343.97,200.88 L344.79,201.06 L345.60,201.25 L346.42,201.43 L347.23,201.61 L348.04,201.79 L348.86,201.96 L349.67,202.14 L350.49,202.32 L351.30,202.49 L352.12,202.66 L352.93,202.83 L353.74,203.00 L354.56,203.17 L355.37,203.34 L356.19,203.51 L357.00,203.67 L357.81,203.84 L358.63,204.00 L359.44,204.16 L360.26,204.32 L361.07,204.48 L361.89,204.64 L362.70,204.80" stroke="#ffa500" stroke-width="1.8" stroke-dasharray="4.7 1.4 0.9 1.4"/>
</g>
<rect x="58.4" y="32.05" width="304.3" height="206.25" fill="none" stroke="#000" stroke-width="1.0"/>
<path d="M319.5,42.3H350.3" stroke="#ff00ff" stroke-width="1.85"/>
<path d="M319.5,53.3H350.3" stroke="#00008b" stroke-width="1.9" stroke-dasharray="1.6 2.23"/>
<path d="M319.5,64.2H350.3" stroke="#ffa500" stroke-width="1.8" stroke-dasharray="4.7 1.4 0.9 1.4"/>
<g font-family="Liberation Sans, sans-serif" font-size="10.4" fill="#000" filter="url(#nf)" text-rendering="geometricPrecision">
<text transform="translate(210.10,19.70) scale(1.012,1.11)" text-anchor="middle" font-size="10.4">DUNE[L=1300 km]</text>
<text transform="translate(210.80,269.10) scale(1.012,1.11)" text-anchor="middle" font-size="10.4">E (GeV)</text>
<text transform="translate(51.90,242.65) scale(1.012,1.11)" text-anchor="end" font-size="10.4">0</text>
<text transform="translate(51.90,216.87) scale(1.012,1.11)" text-anchor="end" font-size="10.4">0.01</text>
<text transform="translate(51.90,191.09) scale(1.012,1.11)" text-anchor="end" font-size="10.4">0.02</text>
<text transform="translate(51.90,165.31) scale(1.012,1.11)" text-anchor="end" font-size="10.4">0.03</text>
<text transform="translate(51.90,139.53) scale(1.012,1.11)" text-anchor="end" font-size="10.4">0.04</text>
<text transform="translate(51.90,113.74) scale(1.012,1.11)" text-anchor="end" font-size="10.4">0.05</text>
<text transform="translate(51.90,87.96) scale(1.012,1.11)" text-anchor="end" font-size="10.4">0.06</text>
<text transform="translate(51.90,62.18) scale(1.012,1.11)" text-anchor="end" font-size="10.4">0.07</text>
<text transform="translate(51.90,36.40) scale(1.012,1.11)" text-anchor="end" font-size="10.4">0.08</text>
<text transform="translate(120.26,253.00) scale(1.012,1.11)" text-anchor="middle" font-size="10.4">2</text>
<text transform="translate(201.41,253.00) scale(1.012,1.11)" text-anchor="middle" font-size="10.4">4</text>
<text transform="translate(282.55,253.00) scale(1.012,1.11)" text-anchor="middle" font-size="10.4">6</text>
<text transform="translate(363.70,253.00) scale(1.012,1.11)" text-anchor="middle" font-size="10.4">8</text>
<text transform="translate(313.00,46.90) scale(1.012,1.11)" text-anchor="end" font-size="10.4">270<tspan font-size="8.9" dy="-4.2">o</tspan><tspan dy="4.2">-NH-LO</tspan></text>
<text transform="translate(313.00,58.05) scale(1.012,1.11)" text-anchor="end" font-size="10.4">135<tspan font-size="8.9" dy="-4.2">o</tspan><tspan dy="4.2">-NH-HO</tspan></text>
<text transform="translate(313.00,69.20) scale(1.012,1.11)" text-anchor="end" font-size="10.4">270<tspan font-size="8.9" dy="-4.2">o</tspan><tspan dy="4.2">-IH-HO</tspan></text>
<g transform="translate(12.4,145) rotate(-90)" aria-label="P μ̄ē">
<text x="-0.2" y="0.45" font-size="16.6">P</text>
<g transform="translate(10.8,3.4) scale(0.004346,-0.004346)"><path d="M862 0Q860 12 856.5 81.5Q853 151 852 190H848Q788 72 721.5 26.0Q655 -20 554 -20Q472 -20 412.0 12.0Q352 44 320 102H316Q320 59 320 -20V-393H138V1082H320V438Q320 277 383.0 199.0Q446 121 576 121Q700 121 771.5 212.0Q843 303 843 465V1082H1024V233Q1024 42 1030 0Z"/><path transform="translate(1180,0)" d="M276 503Q276 317 353.0 216.0Q430 115 578 115Q695 115 765.5 162.0Q836 209 861 281L1019 236Q922 -20 578 -20Q338 -20 212.5 123.0Q87 266 87 548Q87 816 212.5 959.0Q338 1102 571 1102Q1048 1102 1048 527V503ZM862 641Q847 812 775.0 890.5Q703 969 568 969Q437 969 360.5 881.5Q284 794 278 641Z"/></g>
<path d="M11.0,-2.8h3.4M16.4,-2.8h3.3" stroke="#000" stroke-width="0.95" fill="none"/>
</g>
</g>
</svg>
</body></html>
